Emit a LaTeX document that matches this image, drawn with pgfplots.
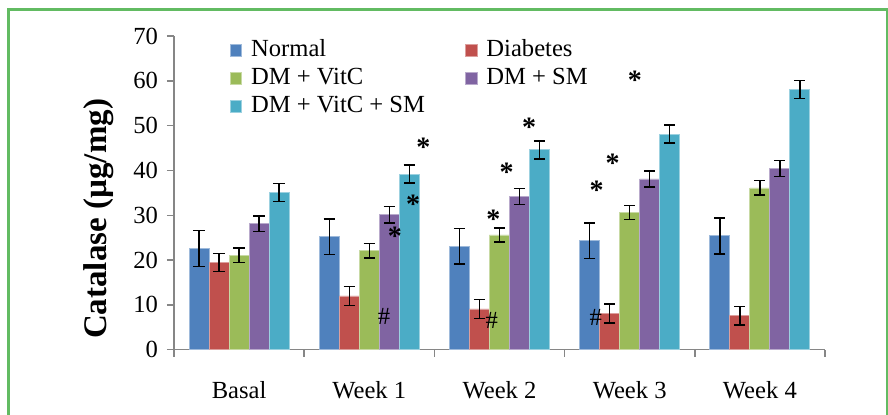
\documentclass[border=0pt]{standalone}
\usepackage{fontspec}
\setmainfont{Liberation Serif}
\usepackage{pgfplots}
\pgfplotsset{compat=1.18}
\definecolor{cNormal}{RGB}{79,129,189}
\definecolor{cDiab}{RGB}{192,80,77}
\definecolor{cVitC}{RGB}{155,187,89}
\definecolor{cSM}{RGB}{128,100,162}
\definecolor{cBoth}{RGB}{75,172,198}
\definecolor{frameg}{RGB}{98,187,98}
\definecolor{axgray}{RGB}{134,134,134}
\newcommand{\tf}{\fontsize{12.3bp}{14bp}\selectfont}
\pgfplotsset{
  mybar/.style={bar shift=#1, line width=0.4bp,
    error bars/y dir=both, error bars/y explicit,
    error bars/error bar style={black, line width=0.7bp},
    error bars/error mark options={black, rotate=90, mark size=2.8bp, line width=0.7bp}},
  sqleg/.style={legend image code/.code={\fill[##1] (0bp,-2.9bp) rectangle (5.8bp,2.9bp);}},
}
\begin{document}
\begin{tikzpicture}
\useasboundingbox (0,0) rectangle (444bp,207.5bp);
\draw[frameg, line width=1.4bp] (4.35bp,-20bp) -- (4.35bp,202.75bp) -- (443.5bp,202.75bp) -- (443.5bp,-20bp);
\begin{axis}[
  at={(87bp,32.65bp)}, anchor=south west,
  scale only axis, width=325.5bp, height=156.85bp,
  ybar=0pt, bar width=10bp,
  xmin=-0.5, xmax=4.5, ymin=0, ymax=70,
  axis x line*=bottom, axis y line*=left,
  axis line style={axgray, line width=0.75bp},
  tick style={axgray, line width=0.75bp},
  tick align=outside, major tick length=3.5bp,
  ytick={0,10,...,70},
  xtick={-0.5,0.5,...,4.5}, xticklabels={},
  extra x ticks={0,1,2,3,4},
  extra x tick labels={Basal,Week 1,Week 2,Week 3,Week 4},
  extra x tick style={tick style={draw=none}},
  /pgf/number format/assume math mode=true,
  tick label style={font=\tf, black},
  xticklabel style={yshift=-9bp},
  yticklabel style={xshift=-1bp},
  ylabel={\textbf{Catalase (µg/mg)}},
  ylabel style={font=\fontsize{16.5bp}{18bp}\selectfont, at={(axis description cs:-0.115,0.417)}, anchor=center},
  legend columns=2,
  legend style={at={(0.085,1.0)}, anchor=north west, draw=none, fill=none, font=\tf,
    inner sep=0pt, row sep=0pt,
    nodes={inner sep=1bp, text height=9bp, text depth=3bp},
    /tikz/every odd column/.append style={column sep=3.5bp},
    /tikz/every even column/.append style={column sep=19bp}},
  legend cell align=left,
]
\addplot[mybar=-20bp, fill=cNormal, draw=cNormal!55!white, sqleg] coordinates {
 (0,22.6) +- (0,4.0) (1,25.2) +- (0,4.0) (2,23.1) +- (0,4.0) (3,24.3) +- (0,4.0) (4,25.4) +- (0,4.0)};
\addlegendentry{Normal}
\addplot[mybar=-10bp, fill=cDiab, draw=cDiab!55!white, sqleg] coordinates {
 (0,19.5) +- (0,2.0) (1,12.0) +- (0,2.1) (2,9.1) +- (0,2.1) (3,8.1) +- (0,2.1) (4,7.6) +- (0,2.1)};
\addlegendentry{Diabetes}
\addplot[mybar=0bp, fill=cVitC, draw=cVitC!55!white, sqleg] coordinates {
 (0,21.1) +- (0,1.6) (1,22.1) +- (0,1.6) (2,25.6) +- (0,1.6) (3,30.6) +- (0,1.6) (4,36.1) +- (0,1.6)};
\addlegendentry{DM + VitC}
\addplot[mybar=10bp, fill=cSM, draw=cSM!55!white, sqleg] coordinates {
 (0,28.1) +- (0,1.7) (1,30.1) +- (0,1.8) (2,34.2) +- (0,1.8) (3,38.1) +- (0,1.8) (4,40.4) +- (0,1.8)};
\addlegendentry{DM + SM}
\addplot[mybar=20bp, fill=cBoth, draw=cBoth!55!white, sqleg] coordinates {
 (0,35.1) +- (0,2.0) (1,39.2) +- (0,2.0) (2,44.6) +- (0,2.0) (3,48.1) +- (0,2.0) (4,58.1) +- (0,2.0)};
\addlegendentry{DM + VitC + SM}
\addplot[black, bar shift=0pt, only marks, mark=text, text mark={\bfseries\fontsize{14bp}{16bp}\selectfont *}, forget plot] coordinates {
 (1.415,45.1) (1.336,32.4) (1.197,25.3) (1.953,29.0) (2.055,39.7) (2.227,49.6) (2.746,35.6) (2.869,41.5) (3.04,60.1)};
\addplot[black, bar shift=0pt, only marks, mark=text, text mark={\tf\#}, forget plot] coordinates {
 (1.113,7.5) (1.94,6.5) (2.739,7.2)};
\end{axis}
\end{tikzpicture}
\end{document}
